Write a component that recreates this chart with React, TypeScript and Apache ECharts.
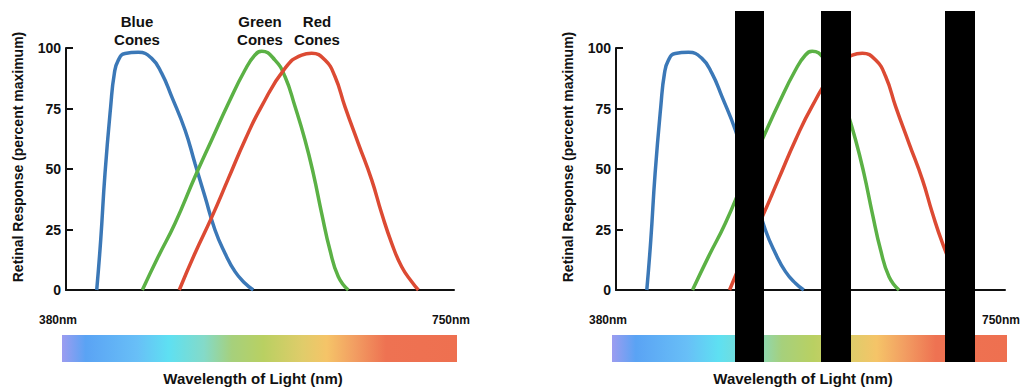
import React, { useEffect, useRef } from "react";
import * as echarts from "echarts";

// Wavelengths (nm) and responses (% of maximum)
const blueNm = [409.3, 413.1, 417.2, 422.6, 426.1, 429.9, 436.3, 448.9, 461.7, 471.3, 480.8, 493.5, 503.0, 512.5, 522.1, 531.6, 541.2, 550.7, 558.6];
const blueResp = [0, 20.7, 48.2, 75.8, 89.5, 95, 97.7, 98.2, 95.7, 89.5, 79.9, 66.1, 52.3, 38.6, 24.8, 15.2, 7.6, 2.8, 0];
const greenNm = [452.8, 468.0, 483.9, 503.0, 518.9, 534.8, 550.7, 560.2, 566.6, 579.3, 588.8, 598.4, 607.9, 615.8, 623.8, 631.7, 639.7, 649.2];
const greenResp = [0, 13.8, 27.5, 46.8, 62, 77.1, 90.9, 97.1, 98.7, 95, 88.2, 75.8, 62, 48.2, 31.7, 16.5, 5.5, 0];
const redNm = [488.0, 503.0, 518.9, 534.8, 550.7, 566.6, 588.8, 604.8, 614.3, 627.0, 636.5, 646.0, 658.7, 671.5, 681.0, 690.6, 700.1, 709.7, 716.0];
const redResp = [0, 15.2, 30, 46, 62, 76, 91.6, 97.1, 97.8, 95, 88.2, 75.8, 60.6, 45.5, 31.7, 19.3, 9.6, 3.4, 0];
const yTicks = [0, 25, 50, 75, 100];
const wlRange = [380, 750];
const coneLabels = ["Blue\nCones", "Green\nCones", "Red\nCones"];
const coneColors = ["#3b78b7", "#5bb145", "#dc4a33"];

const zip = (a: number[], b: number[]) => a.map((v, i) => [v, b[i]]);

export default function App() {
  const ref = useRef<HTMLDivElement>(null);
  useEffect(() => {
    if (!ref.current) return;
    const chart = echarts.init(ref.current, null, { renderer: "svg" });
    const font = "'Liberation Sans', Arial, Helvetica, sans-serif";
    const grids = [
      { left: 66, top: 48, width: 388, height: 242 },
      { left: 616, top: 48, width: 389, height: 242 },
    ];
    const xAxes = grids.map((_, i) => ({
      type: "value",
      gridIndex: i,
      min: wlRange[0],
      max: wlRange[1],
      axisLine: { show: true, onZero: false, lineStyle: { color: "#111", width: 2 } },
      axisTick: { show: false },
      axisLabel: { show: false },
      splitLine: { show: false },
    }));
    const yAxes = grids.map((_, i) => ({
      type: "value",
      gridIndex: i,
      min: yTicks[0],
      max: yTicks[yTicks.length - 1],
      interval: 25,
      axisLine: { show: true, lineStyle: { color: "#111", width: 2 } },
      axisTick: { show: true, inside: true, length: 7, lineStyle: { color: "#111", width: 2 } },
      axisLabel: { margin: 5, color: "#111", fontWeight: "bold", fontSize: 14, fontFamily: font },
      splitLine: { show: false },
    }));
    const sets = [
      zip(blueNm, blueResp),
      zip(greenNm, greenResp),
      zip(redNm, redResp),
    ];
    const series: any[] = [];
    grids.forEach((_, gi) => {
      sets.forEach((d, si) => {
        series.push({
          type: "line",
          xAxisIndex: gi,
          yAxisIndex: gi,
          data: d,
          smooth: 0.5,
          symbol: "none",
          lineStyle: { color: coneColors[si], width: 3.5 },
          z: 3,
        });
      });
    });

    const spectrum = () =>
      new echarts.graphic.LinearGradient(0, 0, 1, 0, [
        { offset: 0, color: "#9c9cf0" },
        { offset: 0.06, color: "#5aa3f4" },
        { offset: 0.19, color: "#68bff7" },
        { offset: 0.27, color: "#5ee0f2" },
        { offset: 0.36, color: "#84dac8" },
        { offset: 0.43, color: "#a6d07c" },
        { offset: 0.51, color: "#b9d062" },
        { offset: 0.61, color: "#e0cc6a" },
        { offset: 0.67, color: "#f5c468" },
        { offset: 0.74, color: "#f29e62" },
        { offset: 0.82, color: "#ee7252" },
        { offset: 1, color: "#ee7050" },
      ]);

    const txt = (text: string, x: number, y: number, size: number, extra: any = {}) => ({
      type: "text",
      x,
      y,
      z: 50,
      ...extra,
      style: {
        text,
        fill: "#111",
        font: `bold ${size}px ${font}`,
        textAlign: "center",
        textVerticalAlign: "middle",
        lineHeight: 18,
      },
    });

    const panelOffsets = [0, 550];
    const graphics: any[] = [];
    panelOffsets.forEach((ox) => {
      graphics.push(txt("Retinal Response (percent maximum)", 17.5 + ox, 157, 14, { rotation: Math.PI / 2 }));
      graphics.push(txt("380nm", 58 + ox, 320, 12));
      graphics.push(txt("750nm", 451 + ox, 320, 12));
      graphics.push({
        type: "rect",
        z: 10,
        shape: { x: 62 + ox, y: 335, width: 395, height: 27 },
        style: { fill: spectrum() },
      });
      graphics.push(txt("Wavelength of Light (nm)", 253 + ox, 378, 15));
    });
    [137, 260, 317].forEach((cx, i) => {
      graphics.push(txt(coneLabels[i], cx, 30, 15));
    });
    [[735, 764], [821, 851], [945, 975]].forEach(([a, b]) => {
      graphics.push({
        type: "rect",
        z: 100,
        shape: { x: a, y: 11, width: b - a, height: 351 },
        style: { fill: "#000" },
      });
    });

    chart.setOption({
      animation: false,
      backgroundColor: "#fff",
      grid: grids,
      xAxis: xAxes,
      yAxis: yAxes,
      series,
      graphic: { elements: graphics },
    });
    return () => chart.dispose();
  }, []);
  return (
    <div
      ref={ref}
      style={{ position: "fixed", left: 0, top: 0, width: 1024, height: 390 }}
    />
  );
}
